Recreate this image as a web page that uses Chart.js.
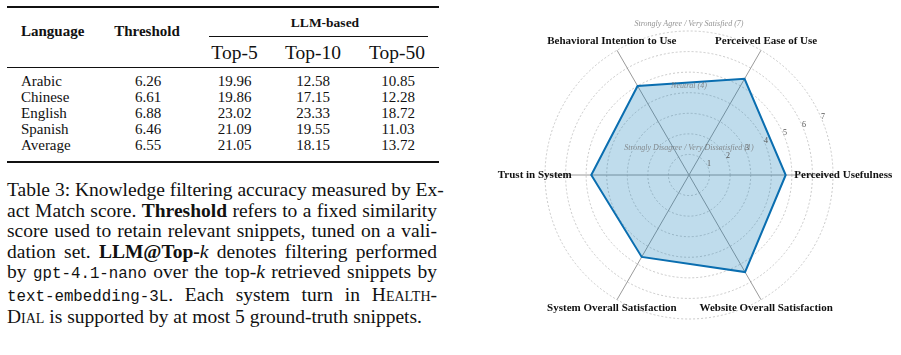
<!DOCTYPE html>
<html lang="en">
<head>
  <meta charset="UTF-8">
  <title>Knowledge filtering table and user survey radar</title>
  <script src="https://cdn.jsdelivr.net/npm/chart.js@4"></script>
  <style>
    body {
      margin: 0;
      width: 901px;
      height: 355px;
      background: #fff;
      color: #111;
      font-family: "Liberation Serif", serif;
      position: relative;
      overflow: hidden;
    }
    .rule {
      position: absolute;
      background: #111;
    }
    .cell {
      position: absolute;
      white-space: nowrap;
      line-height: 1;
      transform: translate(-50%, -50%);
    }
    .cell.left {
      transform: translate(0, -50%);
    }
    .caption {
      position: absolute;
      left: 7px;
      top: 180px;
      width: 430px;
      font-size: 19.5px;
      line-height: 20.5px;
    }
    .caption div {
      text-align: justify;
      text-align-last: justify;
      white-space: nowrap;
    }
    .caption div.last {
      text-align-last: left;
    }
    .caption tt {
      font-family: "Liberation Mono", monospace;
      font-size: 15.8px;
    }
    .sc { font-variant: small-caps; }
    #radar {
      position: absolute;
      left: 450px;
      top: 0;
    }
  </style>
</head>
<body>

<div id="table"></div>

<div class="caption">
  <div>Table 3: Knowledge filtering accuracy measured by Ex-</div>
  <div>act Match score. <b>Threshold</b> refers to a fixed similarity</div>
  <div>score used to retain relevant snippets, tuned on a vali-</div>
  <div>dation set. <b>LLM@Top-</b><i>k</i> denotes filtering performed</div>
  <div>by <tt>gpt-4.1-nano</tt> over the top-<i>k</i> retrieved snippets by</div>
  <div><tt>text-embedding-3L</tt>. Each system turn in <span class="sc">Health-</span></div>
  <div class="last"><span class="sc">Dial</span> is supported by at most 5 ground-truth snippets.</div>
</div>

<canvas id="radar" width="451" height="355"></canvas>

<script>
// table data
const languages = ['Arabic', 'Chinese', 'English', 'Spanish', 'Average'];
const threshold = ['6.26', '6.61', '6.88', '6.46', '6.55'];
const top5 = ['19.96', '19.86', '23.02', '21.09', '21.05'];
const top10 = ['12.58', '17.15', '23.33', '19.55', '18.15'];
const top50 = ['10.85', '12.28', '18.72', '11.03', '13.72'];
const topHeaders = ['Top-5', 'Top-10', 'Top-50'];

// radar data (clockwise from the right)
const dimensions = [
  'Perceived Usefulness',
  'Website Overall Satisfaction',
  'System Overall Satisfaction',
  'Trust in System',
  'Behavioral Intention to Use',
  'Perceived Ease of Use'
];
const scores = [4.7, 5.45, 4.6, 4.75, 5.0, 5.4];
const ringTicks = [1, 2, 3, 4, 5, 6, 7];
const anchorValues = [7, 4, 1];
const anchorTexts = [
  'Strongly Agree / Very Satisfied (7)',
  'Neutral (4)',
  'Strongly Disagree / Very Dissatisfied (1)'
];

// ---- table ----
const table = document.getElementById('table');

function addRule(x, y, w, h) {
  const d = document.createElement('div');
  d.className = 'rule';
  d.style.left = x + 'px'; d.style.top = y + 'px';
  d.style.width = w + 'px'; d.style.height = h + 'px';
  table.appendChild(d);
}

function addCell(html, x, y, size, opts = {}) {
  const d = document.createElement('div');
  d.className = 'cell' + (opts.left ? ' left' : '');
  d.innerHTML = html;
  d.style.left = x + 'px'; d.style.top = y + 'px';
  d.style.fontSize = size + 'px';
  if (opts.bold) d.style.fontWeight = 'bold';
  table.appendChild(d);
}

addRule(7, 6, 432, 1.6);
addRule(209, 35.5, 219, 1);
addRule(7, 66.5, 432, 1);
addRule(7, 161, 432, 1.6);

addCell('Language', 21, 31, 15, { bold: true, left: true });
addCell('Threshold', 147, 31, 15, { bold: true });
addCell('LLM-based', 325, 23, 13.5, { bold: true });

const colX = [234.5, 313, 397];
topHeaders.forEach((h, i) => addCell(h, colX[i], 53, 19.5));

languages.forEach((lang, r) => {
  const y = 81 + r * 16;
  addCell(lang, 21, y, 15, { left: true });
  addCell(threshold[r], 148, y, 15);
  addCell(top5[r], colX[0], y, 15);
  addCell(top10[r], colX[1], y, 15);
  addCell(top50[r], colX[2] + 1, y, 15);
});

// ---- radar ----
const overlayText = {
  id: 'overlayText',
  afterDraw(chart) {
    const ctx = chart.ctx;
    const r = chart.scales.r;
    ctx.save();

    // axis labels, centred just beyond the outer ring
    ctx.font = 'bold 11px "Liberation Serif", serif';
    ctx.fillStyle = '#111';
    ctx.textAlign = 'center';
    ctx.textBaseline = 'middle';
    const labelDist = r.getDistanceFromCenterForValue(7.5);
    dimensions.forEach((name, i) => {
      const p = r.getPointPosition(i, labelDist);
      ctx.fillText(name, p.x, p.y);
    });

    // ring values along a 22.5 degree spoke
    ctx.font = '8px "Liberation Serif", serif';
    ctx.fillStyle = '#555';
    ctx.textBaseline = 'bottom';
    const a = -22.5 * Math.PI / 180;
    ringTicks.forEach(v => {
      const d = r.getDistanceFromCenterForValue(v);
      ctx.fillText(String(v), r.xCenter + Math.cos(a) * d + 1, r.yCenter + Math.sin(a) * d + 1);
    });

    // anchor captions above the top of rings
    ctx.font = 'italic 8px "Liberation Serif", serif';
    ctx.fillStyle = 'rgba(110,110,110,0.75)';
    ctx.textBaseline = 'middle';
    anchorValues.forEach((v, i) => {
      const d = r.getDistanceFromCenterForValue(v);
      ctx.fillText(anchorTexts[i], r.xCenter, r.yCenter - d - 7);
    });

    ctx.restore();
  }
};

new Chart(document.getElementById('radar'), {
  type: 'radar',
  data: {
    labels: dimensions,
    datasets: [{
      data: scores,
      borderColor: '#0a6eb0',
      backgroundColor: 'rgba(0, 114, 178, 0.25)',
      borderWidth: 2,
      borderJoinStyle: 'miter',
      pointRadius: 0,
      fill: true
    }]
  },
  options: {
    responsive: false,
    animation: false,
    layout: { padding: { left: 95, right: 68, top: 31, bottom: 36 } },
    plugins: {
      legend: { display: false },
      tooltip: { enabled: false }
    },
    scales: {
      r: {
        min: 0,
        max: 7,
        startAngle: 90,
        ticks: { display: false, stepSize: 1 },
        pointLabels: { display: false },
        grid: { circular: true, color: '#bdbdbd', lineWidth: 0.8 },
        border: { dash: [2, 2] },
        angleLines: { color: '#9a9a9a', lineWidth: 1 }
      }
    }
  },
  plugins: [overlayText]
});
</script>
</body>
</html>
